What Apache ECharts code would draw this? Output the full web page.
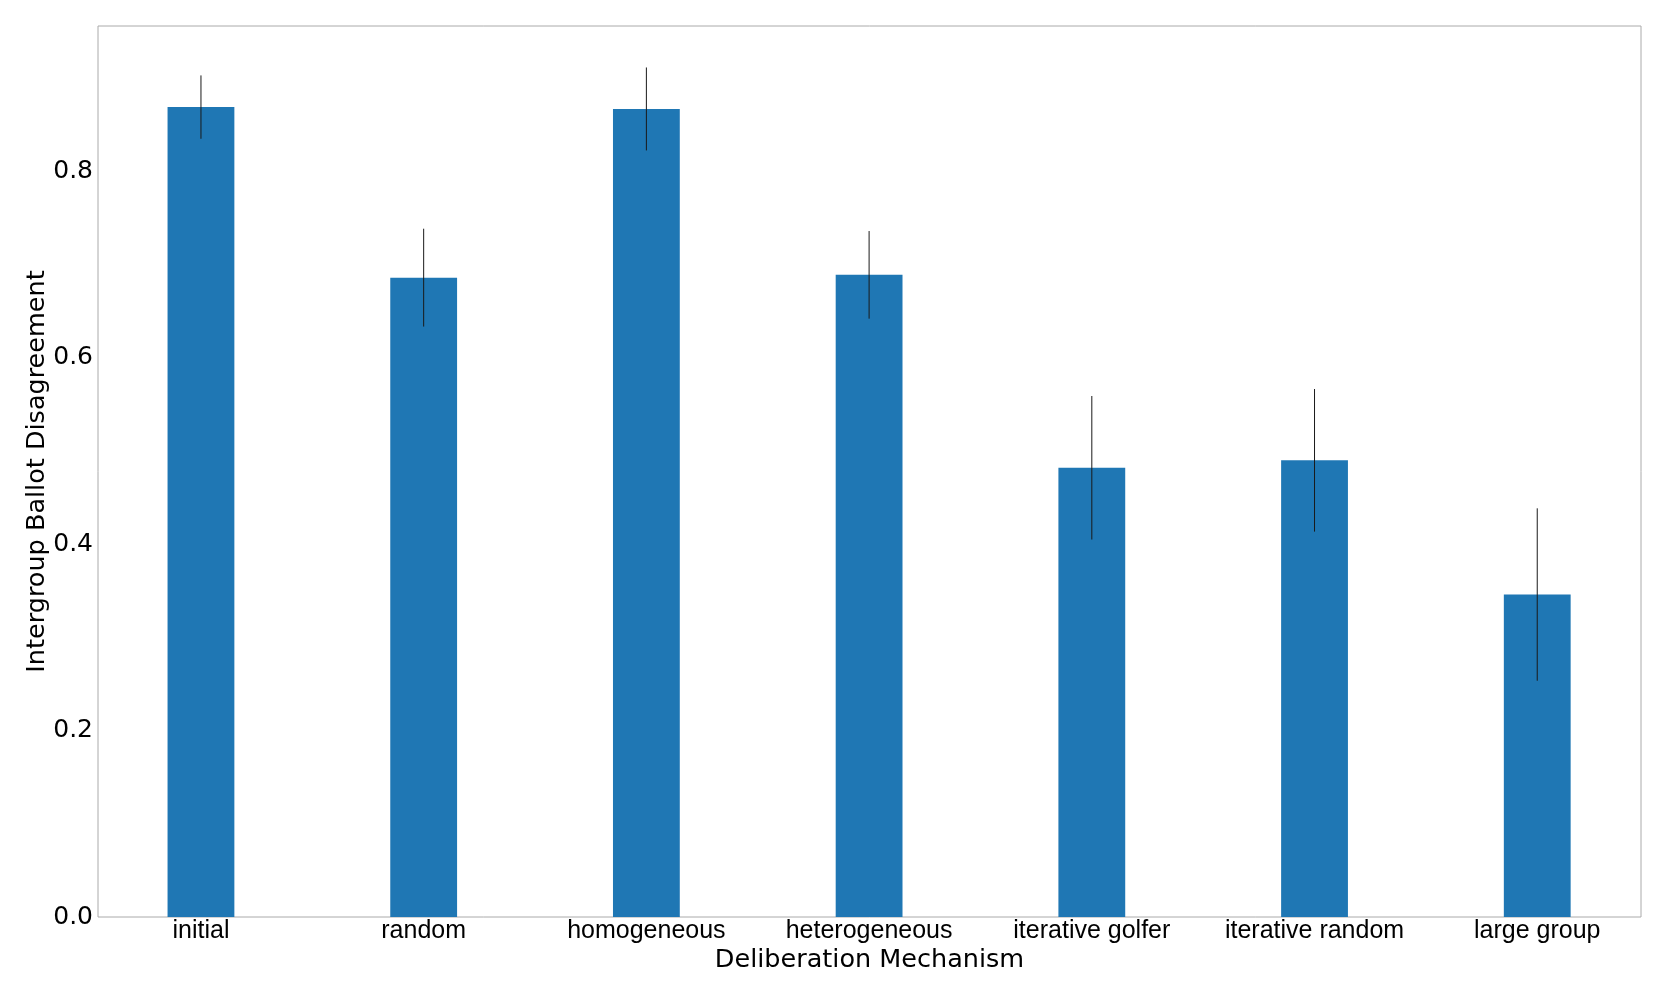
<!DOCTYPE html>
<html><head><meta charset="utf-8">
<script src="https://cdn.jsdelivr.net/npm/echarts@6/dist/echarts.min.js"></script>
<style>html,body{margin:0;padding:0;background:#fff}#c{width:1667px;height:1000px}</style>
</head><body><div id="c"></div>
<script>
const categories = ['initial', 'random', 'homogeneous', 'heterogeneous', 'iterative golfer', 'iterative random', 'large group'];
const means = [0.869, 0.686, 0.867, 0.689, 0.482, 0.490, 0.346];
const errors = [0.034, 0.0525, 0.0445, 0.047, 0.077, 0.0765, 0.0925];
const yMin = 0, yMax = 0.956, yStep = 0.2;
const xTitle = 'Deliberation Mechanism';
const yTitle = 'Intergroup Ballot Disagreement';

const chart = echarts.init(document.getElementById('c'), null, {renderer: 'canvas'});
const errData = categories.map((c, i) => [i, means[i] - errors[i], means[i] + errors[i]]);

chart.setOption({
  animation: false,
  backgroundColor: '#ffffff',
  grid: [
    {left: 98, top: 26, width: 1543, height: 891, show: true, borderColor: '#aaaaaa', borderWidth: 1, backgroundColor: 'transparent'},
    {left: 89.6, top: 26, width: 1559, height: 891, show: false}
  ],
  xAxis: [
    {type: 'category', gridIndex: 0, data: categories, show: true,
     axisLine: {show: false}, axisTick: {show: false}, axisLabel: {show: false}, splitLine: {show: false},
     name: xTitle, nameLocation: 'middle', nameGap: 30, nameMoveOverlap: false,
     nameTextStyle: {fontFamily: 'DejaVu Sans', fontSize: 25.5, color: '#000'}},
    {type: 'category', gridIndex: 1, data: categories, boundaryGap: true,
     axisLine: {show: false}, axisTick: {show: false}, splitLine: {show: false},
     axisLabel: {fontFamily: 'Liberation Sans', fontSize: 25, color: '#000', margin: 2, interval: 0}}
  ],
  yAxis: [
    {type: 'value', gridIndex: 0, min: yMin, max: yMax, interval: yStep,
     axisLine: {show: false}, axisTick: {show: false}, splitLine: {show: false},
     axisLabel: {fontFamily: 'DejaVu Sans', fontSize: 25, color: '#000', margin: 5, showMaxLabel: false,
       formatter: v => v.toFixed(1)},
     name: yTitle, nameLocation: 'middle', nameGap: 48, nameRotate: 90, nameMoveOverlap: false,
     nameTextStyle: {fontFamily: 'DejaVu Sans', fontSize: 25.5, color: '#000'}},
    {type: 'value', gridIndex: 1, min: yMin, max: yMax, interval: yStep, show: false,
     splitLine: {show: false}}
  ],
  series: [
    {type: 'bar', xAxisIndex: 1, yAxisIndex: 1, data: means, barWidth: '30%',
     itemStyle: {color: '#1f77b4'}, z: 2},
    {type: 'custom', xAxisIndex: 1, yAxisIndex: 1, data: errData, z: 10,
     encode: {x: 0, y: [1, 2]},
     renderItem: (params, api) => {
       const x = api.value(0);
       const p1 = api.coord([x, api.value(1)]);
       const p2 = api.coord([x, api.value(2)]);
       return {type: 'line', shape: {x1: p1[0], y1: p1[1], x2: p2[0], y2: p2[1]},
               style: {stroke: '#1a1a1a', lineWidth: 1}};
     }}
  ]
});
</script>
</body></html>
